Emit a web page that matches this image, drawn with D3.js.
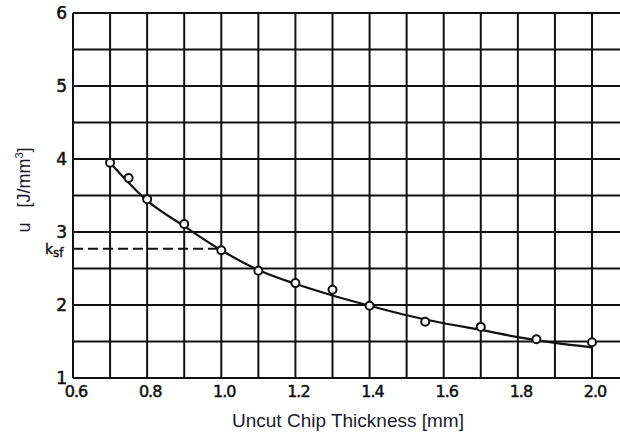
<!DOCTYPE html>
<html><head><meta charset="utf-8">
<script src="https://cdn.jsdelivr.net/npm/d3@7"></script>
<style>body{margin:0;background:#fff}svg{display:block}</style>
</head><body>
<script>
const xTicks = [0.6, 0.8, 1.0, 1.2, 1.4, 1.6, 1.8, 2.0];
const xTickLabels = ["0.6", "0.8", "1.0", "1.2", "1.4", "1.6", "1.8", "2.0"];
const yTicks = [1, 2, 3, 4, 5, 6];
const pointX = [0.7, 0.75, 0.8, 0.9, 1.0, 1.1, 1.2, 1.3, 1.4, 1.55, 1.7, 1.85, 2.0];
const pointY = [3.95, 3.74, 3.45, 3.11, 2.75, 2.47, 2.30, 2.21, 1.99, 1.77, 1.70, 1.53, 1.49];
const curveX = [0.7, 0.8, 0.9, 1.0, 1.1, 1.2, 1.3, 1.4, 1.5, 1.6, 1.7, 1.8, 1.9, 2.0];
const curveY = [3.95, 3.43, 3.08, 2.75, 2.48, 2.29, 2.13, 1.99, 1.86, 1.75, 1.66, 1.56, 1.48, 1.42];
const ksf = 2.77;
const ksfX = 1.0;

const W = 620, H = 434;
const svg = d3.select("body").append("svg").attr("width", W).attr("height", H);
const x = d3.scaleLinear().domain([0.6, 2.0]).range([73, 592]);
const y = d3.scaleLinear().domain([1, 6]).range([378, 13]);
const xMax = x.invert(620);

const g = svg.append("g");
const vGrid = d3.range(0.6, 2.0001, 0.1);
g.selectAll("line.v").data(vGrid).join("line")
  .attr("x1", d => x(d)).attr("x2", d => x(d))
  .attr("y1", y(6)).attr("y2", y(1))
  .attr("stroke", "#111").attr("stroke-width", 2);
const hGrid = d3.range(1, 6.0001, 0.5);
g.selectAll("line.h").data(hGrid).join("line")
  .attr("x1", x(0.6)).attr("x2", x(xMax))
  .attr("y1", d => y(d)).attr("y2", d => y(d))
  .attr("stroke", "#111").attr("stroke-width", 2);

// y labels
svg.selectAll("text.yt").data(yTicks).join("text")
  .attr("x", 67).attr("y", d => y(d) + 6)
  .attr("text-anchor", "end")
  .attr("font-family", "DejaVu Sans, sans-serif").attr("font-size", 17)
  .attr("fill", "#111").attr("stroke", "#111").attr("stroke-width", 0.5)
  .text(d => d);
// x labels
svg.selectAll("text.xt").data(xTicks).join("text")
  .attr("x", (d, i) => x(d) + 3).attr("y", 397)
  .attr("text-anchor", "middle")
  .attr("font-family", "DejaVu Sans, sans-serif").attr("font-size", 16)
  .attr("letter-spacing", -1)
  .attr("fill", "#111").attr("stroke", "#111").attr("stroke-width", 0.5)
  .text((d, i) => xTickLabels[i]);

// ksf dashed
svg.append("line")
  .attr("x1", x(0.6)).attr("x2", x(ksfX))
  .attr("y1", y(ksf)).attr("y2", y(ksf))
  .attr("stroke", "#111").attr("stroke-width", 2).attr("stroke-dasharray", "10,5");
const kt = svg.append("text").attr("x", 45).attr("y", y(ksf) + 5)
  .attr("font-family", "DejaVu Sans, sans-serif").attr("font-size", 14).attr("fill", "#111")
  .attr("stroke", "#111").attr("stroke-width", 0.4);
kt.append("tspan").text("k");
kt.append("tspan").attr("dy", 3).attr("font-size", 12).text("sf");

// curve
const line = d3.line().x(d => x(d[0])).y(d => y(d[1])).curve(d3.curveMonotoneX);
svg.append("path").datum(curveX.map((v, i) => [v, curveY[i]]))
  .attr("d", line).attr("fill", "none").attr("stroke", "#111").attr("stroke-width", 2.2);

// points
svg.selectAll("circle.p").data(pointX.map((v, i) => [v, pointY[i]])).join("circle")
  .attr("cx", d => x(d[0])).attr("cy", d => y(d[1])).attr("r", 4)
  .attr("fill", "#fff").attr("stroke", "#111").attr("stroke-width", 2);

// axis titles
svg.append("text").attr("x", 348).attr("y", 427).attr("text-anchor", "middle")
  .attr("font-family", "Liberation Sans, Arial, sans-serif").attr("font-size", 19)
  .attr("fill", "#1a1a2a").text("Uncut Chip Thickness [mm]");
const yt = svg.append("text").attr("transform", "translate(30,190) rotate(-90)")
  .attr("text-anchor", "middle")
  .attr("font-family", "Liberation Sans, Arial, sans-serif").attr("font-size", 18)
  .attr("fill", "#1a1a2a").attr("xml:space", "preserve").style("white-space", "pre");
yt.append("tspan").text("u   [J/mm");
yt.append("tspan").attr("dy", -7).attr("font-size", 11).text("3");
yt.append("tspan").attr("dy", 7).text("]");
</script>
</body></html>
